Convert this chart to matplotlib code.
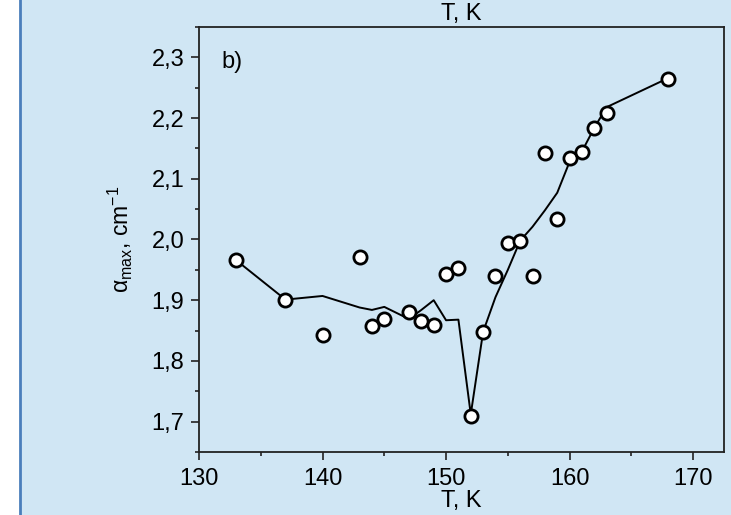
import numpy as np
import matplotlib.pyplot as plt
from matplotlib.patches import Rectangle
from matplotlib.lines import Line2D
from matplotlib.ticker import MultipleLocator, FuncFormatter

plt.rcParams['font.family'] = ['Liberation Sans', 'DejaVu Sans']
plt.rcParams['mathtext.fontset'] = 'custom'
plt.rcParams['mathtext.rm'] = 'Liberation Sans'
plt.rcParams['mathtext.it'] = 'Liberation Sans:italic'

# измеренные точки
T_pts = [133, 137, 140, 143, 144, 145, 147, 148, 149, 150, 151, 152,
         153, 154, 155, 156, 157, 158, 159, 160, 161, 162, 163, 168]
a_pts = [1.966, 1.900, 1.842, 1.971, 1.857, 1.869, 1.880, 1.866, 1.859, 1.943, 1.953, 1.709,
         1.848, 1.940, 1.994, 1.998, 1.940, 2.142, 2.033, 2.135, 2.144, 2.184, 2.208, 2.265]

# сглаженная кривая
T_fit = [133, 137, 140, 143, 144, 145, 147, 148, 149, 150, 151, 152,
         153, 154, 155, 156, 157, 158, 159, 160, 161, 162, 163, 168]
a_fit = [1.966, 1.901, 1.907, 1.888, 1.884, 1.889, 1.869, 1.884, 1.900, 1.867, 1.868, 1.712,
         1.848, 1.905, 1.950, 1.998, 2.021, 2.048, 2.077, 2.128, 2.145, 2.184, 2.218, 2.266]

bg = '#d0e6f4'

fig = plt.figure(figsize=(7.31, 5.15), dpi=100, facecolor='white')
fig.patches.append(Rectangle((20 / 731, 0), 1, 1, transform=fig.transFigure,
                             facecolor=bg, edgecolor='none', zorder=-10))
fig.lines.append(Line2D([20 / 731, 20 / 731], [0, 1], transform=fig.transFigure,
                        color='#4a7ebb', lw=2))

ax = fig.add_axes([199 / 731, 1 - 452 / 515, 525 / 731, 425 / 515])
ax.set_facecolor(bg)

ax.plot(T_fit, a_fit, color='black', lw=1.4, zorder=2)
ax.plot(T_pts, a_pts, 'o', ms=9.5, mfc='white', mec='black', mew=2.0, zorder=3)

ax.set_xlim(130, 172.5)
ax.set_ylim(1.65, 2.35)
ax.xaxis.set_major_locator(MultipleLocator(10))
ax.xaxis.set_minor_locator(MultipleLocator(5))
ax.yaxis.set_major_locator(MultipleLocator(0.1))
ax.yaxis.set_minor_locator(MultipleLocator(0.05))
ax.yaxis.set_major_formatter(FuncFormatter(lambda v, p: f'{v:.1f}'.replace('.', ',')))

ax.tick_params(which='both', direction='out', top=False, right=False, width=1.2, color='#222222')
ax.tick_params(which='major', length=5.5, labelsize=17, pad=5)
ax.tick_params(axis='x', which='major', pad=6)
ax.tick_params(which='minor', length=3)
for s in ax.spines.values():
    s.set_linewidth(1.3)
    s.set_color('#222222')

ax.set_xlabel('T, K', fontsize=17, labelpad=0)
ax.set_title('T, K', fontsize=17, pad=5)
ax.set_ylabel(r'α$_{\mathrm{max}}$, cm$^{-1}$', fontsize=16.5, labelpad=12)
ax.text(0.042, 0.918, 'b)', transform=ax.transAxes, fontsize=17, va='center')

fig.savefig('out.png', dpi=100, facecolor=fig.get_facecolor())
